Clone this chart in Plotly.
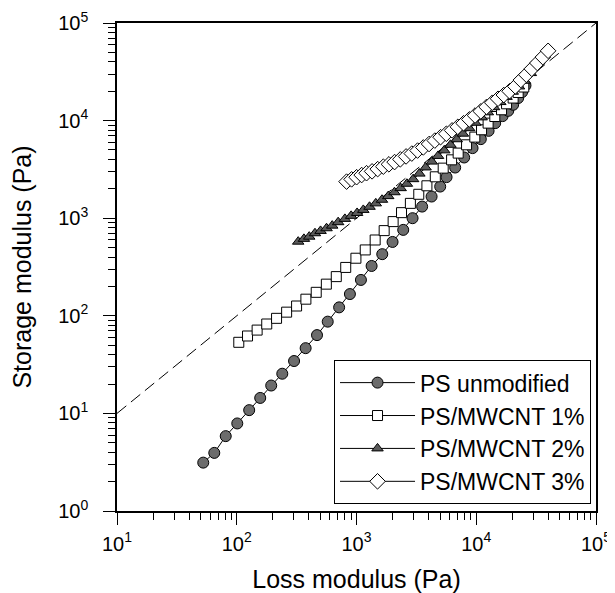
import plotly.graph_objects as go

# PS unmodified (circles)
ps_loss = [52.5, 64.9, 80.9, 101, 127, 157, 194, 240, 301, 376, 468, 575, 716, 881,
           1089, 1337, 1641, 2000, 2455, 2938, 3532, 4236, 5000, 5649, 6668, 7925,
           9311, 10914, 12677, 14388, 16596, 18493, 20324, 22387, 24155, 25763]
ps_storage = [3.13, 3.94, 5.85, 7.89, 10.8, 14.4, 19.3, 25.5, 34.4, 46.6, 63.4, 87.1, 122, 167,
              233, 324, 428, 571, 759, 1000, 1315, 1667, 2109, 2636, 3304, 4188,
              5224, 6457, 7852, 9419, 11117, 12589, 14521, 17022, 19588, 22909]

# PS/MWCNT 1% (squares)
c1_loss = [104, 123, 148, 178, 215, 261, 316, 378, 461, 560, 678, 813, 989, 1183, 1432,
           1702, 2023, 2377, 2818, 3311, 3873, 4550, 5297, 6223, 7063, 8299, 9727,
           11066, 12560, 14289, 16255, 17906, 20324, 22387, 24946]
c1_storage = [53.5, 62.1, 71.4, 82.4, 94.2, 109, 126, 148, 174, 211, 252, 313, 389, 473, 598,
              746, 923, 1140, 1419, 1758, 2148, 2655, 3258, 3963, 4645, 5649, 6776,
              8054, 9419, 11015, 12912, 14859, 17022, 19409, 22080]

# PS/MWCNT 2% (triangles)
c2_loss = [326, 364, 403, 450, 501, 562, 627, 703, 800, 902, 1012, 1140, 1285, 1449, 1633,
           1841, 2075, 2339, 2636, 2972, 3350, 3776, 4256, 4797, 5408, 6095, 6871, 7745,
           8730, 9840, 11092, 12503, 14093, 15885, 17906, 20184, 22751, 25410, 28576]
c2_storage = [575, 614, 647, 701, 741, 789, 839, 910, 984, 1057, 1132, 1216, 1309, 1419, 1545,
              1683, 1845, 2032, 2254, 2512, 2864, 3311, 3802, 4345, 4955, 5649, 6442, 7345,
              8356, 9506, 10789, 12162, 13709, 15488, 17498, 19770, 22387, 25586, 30690]

# PS/MWCNT 3% (diamonds)
c3_loss = [826, 910, 1002, 1104, 1213, 1349, 1503, 1675, 1866, 2080, 2323, 2594, 2897, 3236,
           3614, 4036, 4508, 5035, 5623, 6281, 7015, 7834, 8750, 9772, 10914, 12190, 13614,
           15205, 16982, 18967, 21184, 23550, 26182, 29107, 32359, 35975, 39811]
c3_storage = [2371, 2500, 2630, 2767, 2891, 3020, 3184, 3373, 3565, 3758, 4009, 4295, 4592, 4932,
              5309, 5754, 6237, 6761, 7328, 7943, 8630, 9397, 10280, 11272, 12445, 13804, 15241,
              16749, 18281, 19999, 22387, 26002, 29512, 33884, 38905, 44668, 51880]

# G' = G'' reference line
diag = [10, 100000]

x_ticks = [10, 100, 1000, 10000, 100000]
x_ticktext = ["10<sup>1</sup>", "10<sup>2</sup>", "10<sup>3</sup>", "10<sup>4</sup>", "10<sup>5</sup>"]
y_ticks = [1, 10, 100, 1000, 10000, 100000]
y_ticktext = ["10<sup>0</sup>", "10<sup>1</sup>", "10<sup>2</sup>", "10<sup>3</sup>", "10<sup>4</sup>", "10<sup>5</sup>"]
minor_vals = [m * 10 ** e for e in range(0, 5) for m in range(2, 10)]

FONT = "Liberation Sans, Arial, sans-serif"

fig = go.Figure()
fig.add_trace(go.Scatter(x=diag, y=diag, mode="lines", showlegend=False,
                         line=dict(color="black", width=1, dash="12px,6px"), hoverinfo="skip"))
fig.add_trace(go.Scatter(x=ps_loss, y=ps_storage, mode="lines+markers", name="PS unmodified",
                         line=dict(color="black", width=1),
                         marker=dict(symbol="circle", size=11, color="#6c6c6c",
                                     line=dict(color="black", width=1))))
fig.add_trace(go.Scatter(x=c1_loss, y=c1_storage, mode="lines+markers", name="PS/MWCNT 1%",
                         line=dict(color="black", width=1),
                         marker=dict(symbol="square", size=10, color="white",
                                     line=dict(color="black", width=1))))
fig.add_trace(go.Scatter(x=c2_loss, y=c2_storage, mode="lines+markers", name="PS/MWCNT 2%",
                         line=dict(color="black", width=1),
                         marker=dict(symbol="triangle-up", size=10, color="#5a5a5a",
                                     line=dict(color="black", width=1))))
fig.add_trace(go.Scatter(x=c3_loss, y=c3_storage, mode="lines+markers", name="PS/MWCNT 3%",
                         line=dict(color="black", width=1),
                         marker=dict(symbol="diamond", size=12, color="white",
                                     line=dict(color="black", width=1))))

axis_common = dict(type="log", showgrid=False, zeroline=False, showline=True, automargin=False,
                   linecolor="black", linewidth=1.5, mirror=True,
                   ticks="outside", ticklen=12, tickwidth=1, tickcolor="black",
                   tickfont=dict(family=FONT, size=20, color="black"),
                   minor=dict(ticks="outside", ticklen=7, tickwidth=1, tickcolor="black",
                              tickvals=minor_vals, showgrid=False))

fig.update_xaxes(**axis_common, range=[1, 5], tickmode="array", tickvals=x_ticks,
                 ticktext=x_ticktext, ticklabelstandoff=2,
                 title=dict(text="Loss modulus (Pa)", font=dict(family=FONT, size=25, color="black"),
                            standoff=18))
fig.update_yaxes(**axis_common, range=[0, 5], tickmode="array", tickvals=y_ticks,
                 ticktext=y_ticktext, ticklabelstandoff=11,
                 title=dict(text="Storage modulus (Pa)", font=dict(family=FONT, size=25, color="black"),
                            standoff=20))

# page body has an 8px default margin, so the figure is offset by 8px
fig.update_layout(
    width=607, height=585,
    margin=dict(l=109, r=19, t=15, b=82),
    paper_bgcolor="white", plot_bgcolor="white",
    font=dict(family=FONT, color="black"),
    legend=dict(x=0.9896, xanchor="right", y=0.014, yanchor="bottom",
                bgcolor="white", bordercolor="black", borderwidth=1,
                font=dict(family=FONT, size=23, color="black"),
                itemwidth=75, tracegroupgap=0),
)

fig.write_html("out.html")
